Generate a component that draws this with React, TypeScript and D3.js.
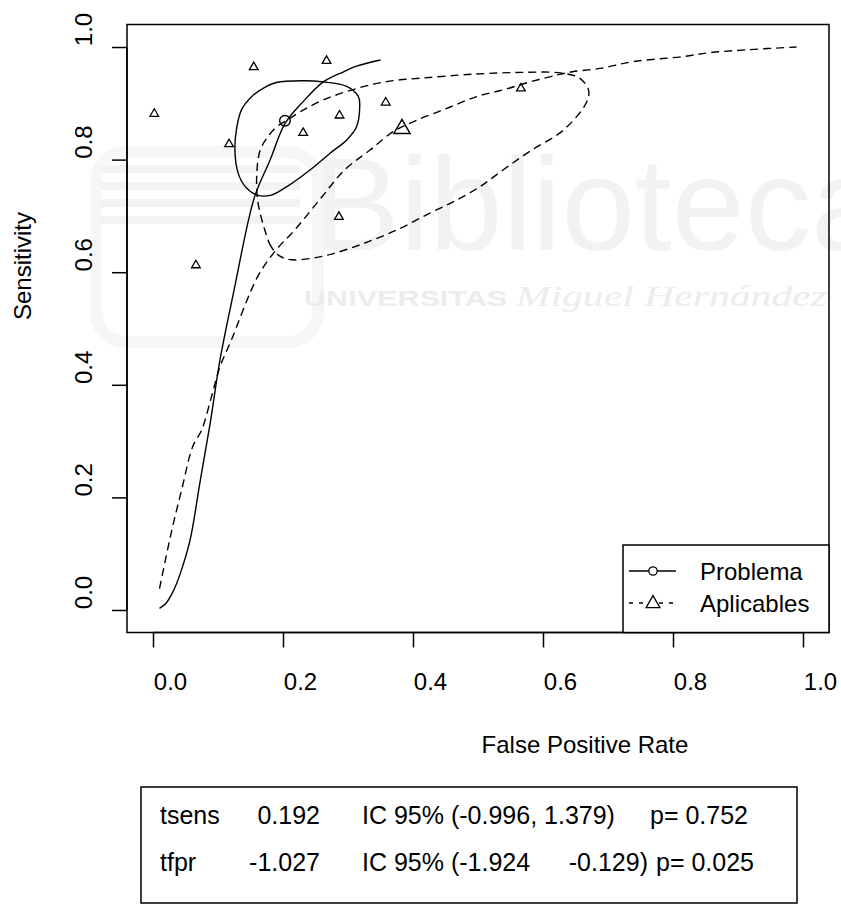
import React, { useEffect, useRef } from 'react';
import * as d3 from 'd3';

const W = 841;
const H = 911;
const FONT = '"Liberation Sans", Arial, sans-serif';

// individual studies (Aplicables), triangles
const studyFpr = [0.002, 0.155, 0.267, 0.117, 0.231, 0.287, 0.358, 0.286, 0.066, 0.566];
const studySens = [0.882, 0.965, 0.976, 0.828, 0.848, 0.879, 0.902, 0.699, 0.613, 0.927];

// summary points
const problemaPoint = [0.203, 0.869];
const aplicablesPoint = [0.383, 0.856];

// SROC curve, Problema (solid)
const srocProblemaFpr = [0.010, 0.020, 0.031, 0.042, 0.057, 0.072, 0.088, 0.103, 0.125, 0.147, 0.158, 0.180, 0.203, 0.231, 0.262, 0.293, 0.313, 0.350];
const srocProblemaSens = [0.003, 0.012, 0.033, 0.065, 0.124, 0.225, 0.332, 0.444, 0.570, 0.693, 0.740, 0.799, 0.864, 0.903, 0.938, 0.956, 0.966, 0.977];

// SROC curve, Aplicables (dashed)
const srocAplicFpr = [0.010, 0.029, 0.044, 0.061, 0.075, 0.090, 0.103, 0.120, 0.161, 0.189, 0.218, 0.260, 0.295, 0.334, 0.370, 0.406, 0.452, 0.498, 0.539, 0.580, 0.621, 0.645, 0.688, 0.738, 0.815, 0.857, 0.913, 0.990];
const srocAplicSens = [0.038, 0.142, 0.213, 0.290, 0.320, 0.379, 0.432, 0.478, 0.592, 0.639, 0.675, 0.734, 0.782, 0.817, 0.850, 0.870, 0.891, 0.912, 0.924, 0.938, 0.950, 0.956, 0.962, 0.974, 0.983, 0.990, 0.995, 1.000];

// confidence region, Problema (solid)
const regionProblemaFpr = [0.190, 0.231, 0.262, 0.298, 0.316, 0.318, 0.313, 0.298, 0.272, 0.242, 0.206, 0.182, 0.160, 0.142, 0.131, 0.126, 0.129, 0.136, 0.152, 0.170];
const regionProblemaSens = [0.937, 0.940, 0.938, 0.930, 0.912, 0.894, 0.858, 0.835, 0.811, 0.782, 0.752, 0.737, 0.737, 0.752, 0.776, 0.817, 0.858, 0.888, 0.912, 0.927];

// confidence region, Aplicables (dashed)
const regionAplicFpr = [0.196, 0.182, 0.172, 0.161, 0.160, 0.165, 0.175, 0.190, 0.206, 0.231, 0.262, 0.298, 0.339, 0.375, 0.416, 0.470, 0.514, 0.570, 0.627, 0.656, 0.670, 0.667, 0.632, 0.580, 0.539, 0.503, 0.467, 0.426, 0.375, 0.324, 0.280, 0.246, 0.214];
const regionAplicSens = [0.628, 0.645, 0.675, 0.728, 0.782, 0.817, 0.838, 0.858, 0.870, 0.888, 0.906, 0.921, 0.934, 0.941, 0.945, 0.950, 0.953, 0.955, 0.954, 0.945, 0.924, 0.902, 0.853, 0.815, 0.782, 0.752, 0.728, 0.705, 0.675, 0.651, 0.634, 0.625, 0.622];

const xTicks = [0, 0.2, 0.4, 0.6, 0.8, 1.0];
const yTicks = [0, 0.2, 0.4, 0.6, 0.8, 1.0];

const legendLabels = ['Problema', 'Aplicables'];

// results table below the plot
const tableNames = ['tsens', 'tfpr'];
const tableEst = ['0.192', '-1.027'];
const tableCIlow = ['IC 95% (-0.996, 1.379)', 'IC 95% (-1.924'];
const tableCIhigh = ['', '-0.129)'];
const tableP = ['p= 0.752', 'p= 0.025'];

const zip = (a: number[], b: number[]) => a.map((v, i) => [v, b[i]] as [number, number]);

function RocChart() {
  const ref = useRef<SVGSVGElement>(null);

  useEffect(() => {
    const svg = d3.select(ref.current);
    svg.selectAll('*').remove();

    const x = d3.scaleLinear().domain([-0.04, 1.04]).range([127, 829]);
    const y = d3.scaleLinear().domain([-0.04, 1.04]).range([632.5, 24.5]);

    svg.append('rect').attr('width', W).attr('height', H).attr('fill', '#fff');

    // faint library watermark
    const wm = svg.append('g').attr('pointer-events', 'none');
    wm.append('rect').attr('x', 96).attr('y', 152).attr('width', 222).attr('height', 190)
      .attr('rx', 30).attr('fill', 'none').attr('stroke', '#f6f6f6').attr('stroke-width', 12);
    [165, 182, 199, 216].forEach((yy) => {
      wm.append('rect').attr('x', 100).attr('y', yy).attr('width', 200).attr('height', 8).attr('fill', '#f3f3f3');
    });
    wm.append('text').attr('x', 312).attr('y', 250).attr('font-family', FONT).attr('font-size', 132)
      .attr('fill', '#f2f2f2').text('Biblioteca');
    const wt = wm.append('text').attr('x', 304).attr('y', 306).attr('fill', '#ececec')
      .attr('textLength', 523).attr('lengthAdjust', 'spacingAndGlyphs');
    wt.append('tspan').attr('font-family', FONT).attr('font-weight', 'bold').attr('font-size', 22)
      .text('UNIVERSITAS ');
    wt.append('tspan').attr('font-family', '"Liberation Serif", serif').attr('font-style', 'italic')
      .attr('font-size', 30).text('Miguel Hernández');

    // plot box
    svg.append('rect').attr('x', 127).attr('y', 24.5).attr('width', 702).attr('height', 608)
      .attr('fill', 'none').attr('stroke', '#000').attr('stroke-width', 1.5);

    // axes
    const xAxis = svg.append('g').attr('transform', 'translate(0,632.5)')
      .call(d3.axisBottom(x).tickValues(xTicks).tickSize(15).tickFormat(d3.format('.1f')));
    xAxis.select('.domain').attr('d', `M${x(0)},0H${x(1)}`).attr('stroke-width', 1.5);
    xAxis.selectAll('.tick line').attr('stroke-width', 1.5);
    xAxis.selectAll('.tick text').attr('font-family', FONT).attr('font-size', 24)
      .attr('fill', '#000').attr('dx', 17).attr('y', 57).attr('dy', null);

    const yAxis = svg.append('g').attr('transform', 'translate(127,0)')
      .call(d3.axisLeft(y).tickValues(yTicks).tickSize(15).tickFormat(d3.format('.1f')));
    yAxis.select('.domain').attr('d', `M0,${y(0)}V${y(1)}`).attr('stroke-width', 1.5);
    yAxis.selectAll('.tick line').attr('stroke-width', 1.5);
    yAxis.selectAll('.tick text').attr('font-family', FONT).attr('font-size', 24)
      .attr('fill', '#000').attr('x', null).attr('dy', null)
      .attr('text-anchor', 'middle').attr('transform', 'translate(-35,-18) rotate(-90)');

    svg.append('text').attr('x', 585).attr('y', 753).attr('text-anchor', 'middle')
      .attr('font-family', FONT).attr('font-size', 24).text('False Positive Rate');
    svg.append('text').attr('transform', 'translate(31,266) rotate(-90)').attr('text-anchor', 'middle')
      .attr('font-family', FONT).attr('font-size', 24).text('Sensitivity');

    const curve = d3.line<[number, number]>().x((d) => x(d[0])).y((d) => y(d[1]))
      .curve(d3.curveCatmullRom.alpha(0.5));
    const closed = d3.line<[number, number]>().x((d) => x(d[0])).y((d) => y(d[1]))
      .curve(d3.curveCatmullRomClosed.alpha(0.5));

    const plot = svg.append('g').attr('fill', 'none').attr('stroke', '#000').attr('stroke-width', 1.4);
    plot.append('path').attr('d', curve(zip(srocProblemaFpr, srocProblemaSens)));
    plot.append('path').attr('d', closed(zip(regionProblemaFpr, regionProblemaSens)));
    plot.append('path').attr('d', curve(zip(srocAplicFpr, srocAplicSens))).attr('stroke-dasharray', '8,5');
    plot.append('path').attr('d', closed(zip(regionAplicFpr, regionAplicSens))).attr('stroke-dasharray', '8,5');

    const tri = (s: number) => `M0,${-s * 0.62}L${s * 0.58},${s * 0.38}L${-s * 0.58},${s * 0.38}Z`;

    plot.selectAll('path.study')
      .data(zip(studyFpr, studySens))
      .enter()
      .append('path')
      .attr('class', 'study')
      .attr('transform', (d) => `translate(${x(d[0])},${y(d[1])})`)
      .attr('d', tri(7.5))
      .attr('stroke-width', 1.3);

    plot.append('path')
      .attr('transform', `translate(${x(aplicablesPoint[0])},${y(aplicablesPoint[1])})`)
      .attr('d', tri(14)).attr('stroke-width', 1.5);
    plot.append('circle').attr('cx', x(problemaPoint[0])).attr('cy', y(problemaPoint[1])).attr('r', 5.3);

    // legend
    const lg = svg.append('g');
    lg.append('rect').attr('x', 623).attr('y', 545).attr('width', 206).attr('height', 87.5)
      .attr('fill', '#fff').attr('stroke', '#000').attr('stroke-width', 1.5);
    legendLabels.forEach((lab, i) => {
      const ly = 571 + i * 32;
      lg.append('line').attr('x1', 629).attr('x2', 676).attr('y1', ly).attr('y2', ly)
        .attr('stroke', '#000').attr('stroke-width', 1.3)
        .attr('stroke-dasharray', i === 1 ? '4,6' : null);
      if (i === 0) {
        lg.append('circle').attr('cx', 653).attr('cy', ly).attr('r', 4.2)
          .attr('fill', '#fff').attr('stroke', '#000').attr('stroke-width', 1.3);
      } else {
        lg.append('path').attr('transform', `translate(653,${ly})`).attr('d', tri(12))
          .attr('fill', '#fff').attr('stroke', '#000').attr('stroke-width', 1.3);
      }
      lg.append('text').attr('x', 700).attr('y', ly + 9).attr('font-family', FONT).attr('font-size', 24)
        .text(lab);
    });

    // results table
    const tb = svg.append('g').attr('font-family', FONT).attr('font-size', 25);
    tb.append('rect').attr('x', 141).attr('y', 787).attr('width', 656).attr('height', 116)
      .attr('fill', 'none').attr('stroke', '#000').attr('stroke-width', 1.5);
    tableNames.forEach((name, i) => {
      const ty = 824 + i * 47;
      tb.append('text').attr('x', 160).attr('y', ty).text(name);
      tb.append('text').attr('x', 320).attr('y', ty).attr('text-anchor', 'end').text(tableEst[i]);
      tb.append('text').attr('x', 362).attr('y', ty).text(tableCIlow[i]);
      if (tableCIhigh[i]) {
        tb.append('text').attr('x', 648).attr('y', ty).attr('text-anchor', 'end').text(tableCIhigh[i]);
      }
      tb.append('text').attr('x', i === 0 ? 650 : 656).attr('y', ty).text(tableP[i]);
    });
  }, []);

  return (
    <svg ref={ref} width={W} height={H}
      style={{ position: 'absolute', left: 0, top: 0, display: 'block' }} />
  );
}

export default function App() {
  return <RocChart />;
}
